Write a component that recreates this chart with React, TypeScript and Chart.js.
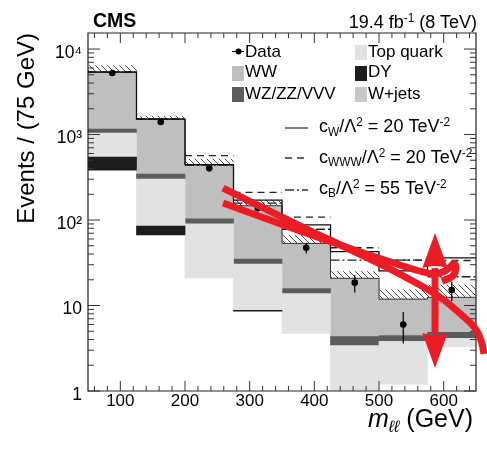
import React, { useEffect, useRef } from 'react';
import { Chart, registerables } from 'chart.js';

Chart.register(...registerables);

// ---------- data ----------
const binEdges = [50, 125, 200, 275, 350, 425, 500, 575, 650];
const binCenters = [87.5, 162.5, 237.5, 312.5, 387.5, 462.5, 537.5, 612.5];
const xTickLabels = [100, 200, 300, 400, 500, 600];
const yTickLabels: Record<number, string> = { 1: '1', 10: '10', 100: '10²', 1000: '10³', 10000: '10⁴' };

// stacked backgrounds, bottom to top
const wjets = [384, 67, 21, 8.6, 4.7, 0.6, 1.2, 3.3];
const dy = [161, 18, 0, 0.2, 0, 0, 0, 0];
const topQuark = [495, 217, 69, 21.7, 9.1, 2.8, 2.6, 0.83];
const wzzzvvv = [120, 43, 13, 4.4, 2.0, 0.93, 0.66, 0.73];
const ww = [4220, 1173, 337, 112, 37.5, 16.5, 7.4, 7.6];
const bkgUnc = [1020, 130, 77, 24, 13.4, 4.1, 3.4, 4.9];

const dataVals = [5250, 1400, 402, 138, 47.4, 18.5, 6.0, 15.2];
const dataErr = [73, 37, 20, 12, 6.9, 4.3, 2.4, 3.9];

// aTGC predictions (SM + signal)
const cW = [5380, 1518, 445, 171, 87.5, 42.6, 25.4, 36];
const cWWW = [5400, 1530, 565, 211, 108, 47.4, 34, 33.6];
const cB = [5380, 1518, 440, 158, 78, 34, 34, 21.7];

// red hand-drawn annotation (data coordinates: GeV, events)
const strokeAX = [258.8, 377.8, 470.6, 532.5, 594.3, 628.3, 650, 659.2, 662.3];
const strokeAY = [236.7, 85.1, 40.0, 23.4, 12.9, 7.74, 5.46, 3.74, 2.71];
const strokeBX = [258.8, 377.8, 470.6, 532.5, 571.1, 594.3, 609.8, 616.0, 620.6, 614.4, 597.4];
const strokeBY = [158.1, 74.3, 42.2, 29.8, 24.0, 23.4, 27.4, 32.3, 27.4, 21.5, 19.3];
const arrowX = [586.6];
const arrowTipY = [70.5, 1.86];
const arrowBaseY = [27.4, 4.77];
const arrowHalfWidthGeV = [19.6];

const FONT = '"Liberation Sans", Arial, Helvetica, sans-serif';
const RED = '#ec1c24';

function makeHatch(): CanvasPattern | string {
  const c = document.createElement('canvas');
  c.width = 6;
  c.height = 6;
  const g = c.getContext('2d');
  if (!g) return '#eee';
  g.fillStyle = '#ffffff';
  g.fillRect(0, 0, 6, 6);
  g.strokeStyle = '#3a3a3a';
  g.lineWidth = 0.9;
  g.beginPath();
  g.moveTo(-1, -1);
  g.lineTo(7, 7);
  g.stroke();
  const p = g.createPattern(c, 'repeat');
  return p || '#eee';
}

const stepPoints = (vals: number[]) => [
  ...vals.map((v, i) => ({ x: binEdges[i], y: v })),
  { x: binEdges[binEdges.length - 1], y: vals[vals.length - 1] },
];
const segPoints = (vals: number[]) =>
  vals.flatMap((v, i) => [
    { x: binEdges[i], y: v },
    { x: binEdges[i + 1], y: v },
    { x: binEdges[i + 1], y: null as any },
  ]);

function drawDecor(chart: any) {
  const ctx = chart.ctx;
  const x = chart.scales.x;
  const y = chart.scales.y;
  const L = x.left;
  const R = x.right;
  const T = y.top;
  const B = y.bottom;
  ctx.save();
  // data error bars
  ctx.strokeStyle = '#000';
  ctx.lineWidth = 1.2;
  dataVals.forEach((v, i) => {
    const px = x.getPixelForValue(binCenters[i]);
    ctx.beginPath();
    ctx.moveTo(px, y.getPixelForValue(v + dataErr[i]));
    ctx.lineTo(px, y.getPixelForValue(Math.max(v - dataErr[i], 0.01)));
    ctx.stroke();
  });
  // frame
  ctx.strokeStyle = '#222';
  ctx.lineWidth = 1.2;
  ctx.beginPath();
  ctx.rect(L, T, R - L, B - T);
  ctx.stroke();
  // x ticks (inward, bottom and top)
  ctx.lineWidth = 1;
  ctx.strokeStyle = '#333';
  for (let v = 60; v < 650; v += 20) {
    const len = v % 100 === 0 ? 10 : 5;
    const px = x.getPixelForValue(v);
    ctx.beginPath();
    ctx.moveTo(px, B);
    ctx.lineTo(px, B - len);
    ctx.moveTo(px, T);
    ctx.lineTo(px, T + len);
    ctx.stroke();
  }
  // y ticks (inward, left and right)
  for (let d = 0; d <= 4; d++) {
    for (let k = 1; k <= 9; k++) {
      const v = k * Math.pow(10, d);
      if (v > 15400) break;
      const len = k === 1 ? 12 : 6;
      const py = y.getPixelForValue(v);
      ctx.beginPath();
      ctx.moveTo(L, py);
      ctx.lineTo(L + len, py);
      ctx.moveTo(R, py);
      ctx.lineTo(R - len, py);
      ctx.stroke();
    }
  }
  ctx.restore();
}

function drawAnnotation(chart: any) {
  const ctx = chart.ctx;
  const x = chart.scales.x;
  const y = chart.scales.y;
  const toPts = (xs: number[], ys: number[]) =>
    xs.map((v, i) => ({ x: x.getPixelForValue(v), y: y.getPixelForValue(ys[i]) }));
  const smooth = (pts: { x: number; y: number }[]) => {
    ctx.beginPath();
    ctx.moveTo(pts[0].x, pts[0].y);
    for (let i = 1; i < pts.length - 1; i++) {
      const mx = (pts[i].x + pts[i + 1].x) / 2;
      const my = (pts[i].y + pts[i + 1].y) / 2;
      ctx.quadraticCurveTo(pts[i].x, pts[i].y, mx, my);
    }
    const last = pts[pts.length - 1];
    ctx.lineTo(last.x, last.y);
    ctx.stroke();
  };
  ctx.save();
  ctx.strokeStyle = RED;
  ctx.fillStyle = RED;
  ctx.lineWidth = 7;
  ctx.lineJoin = 'round';
  ctx.lineCap = 'butt';
  smooth(toPts(strokeAX, strokeAY));
  smooth(toPts(strokeBX, strokeBY));
  // double-headed arrow
  const ax = x.getPixelForValue(arrowX[0]);
  const hw = x.getPixelForValue(arrowX[0] + arrowHalfWidthGeV[0]) - ax;
  ctx.beginPath();
  ctx.moveTo(ax, y.getPixelForValue(arrowBaseY[0]));
  ctx.lineTo(ax, y.getPixelForValue(arrowBaseY[1]));
  ctx.stroke();
  for (let h = 0; h < 2; h++) {
    const tipY = y.getPixelForValue(arrowTipY[h]);
    const baseY = y.getPixelForValue(arrowBaseY[h]);
    const dir = h === 0 ? 1 : -1;
    ctx.beginPath();
    ctx.moveTo(ax, tipY);
    ctx.lineTo(ax + hw, baseY);
    ctx.quadraticCurveTo(ax, baseY - dir * 4, ax - hw, baseY);
    ctx.closePath();
    ctx.fill();
  }
  ctx.restore();
}

const decorPlugin = {
  id: 'decor',
  afterDraw(chart: any) {
    drawDecor(chart);
    drawAnnotation(chart);
  },
};

function buildDatasets(hatch: CanvasPattern | string) {
  const stackDefs = [
    { label: 'W+jets', vals: wjets, color: '#cbcbcb' },
    { label: 'DY', vals: dy, color: '#1c1c1c' },
    { label: 'Top quark', vals: topQuark, color: '#e2e2e2' },
    { label: 'WZ/ZZ/VVV', vals: wzzzvvv, color: '#5c5c5c' },
    { label: 'WW', vals: ww, color: '#bfbfbf' },
  ];
  const cum = binCenters.map(() => 0);
  const bars: any[] = stackDefs.map((d) => ({
    type: 'bar',
    label: d.label,
    data: d.vals.map((v, i) => {
      const lo = cum[i];
      cum[i] += v;
      return v > 0 ? { x: binCenters[i], y: [lo, cum[i]] } : { x: binCenters[i], y: null };
    }),
    backgroundColor: d.color,
    borderWidth: 0,
    barPercentage: 1,
    categoryPercentage: 1,
    order: 8,
  }));
  const total = cum.slice();
  const band = {
    type: 'bar',
    label: 'uncertainty',
    data: total.map((t, i) => ({ x: binCenters[i], y: [t - bkgUnc[i], t + bkgUnc[i]] })),
    backgroundColor: hatch,
    borderWidth: 0,
    barPercentage: 1,
    categoryPercentage: 1,
    order: 9,
  };
  const lineBase = { type: 'line', pointRadius: 0, fill: false, spanGaps: false, borderJoinStyle: 'miter' };
  const totalLine = { ...lineBase, label: 'total', data: stepPoints(total), stepped: true, borderColor: '#333', borderWidth: 1, order: 5 };
  const cwLine = { ...lineBase, label: 'cW', data: stepPoints(cW), stepped: true, borderColor: '#111', borderWidth: 1.3, order: 4 };
  const cwwwLine = { ...lineBase, label: 'cWWW', data: segPoints(cWWW), borderColor: '#222', borderWidth: 1.3, borderDash: [7, 5], order: 4 };
  const cbLine = { ...lineBase, label: 'cB', data: segPoints(cB), borderColor: '#222', borderWidth: 1.3, borderDash: [9, 3, 2, 3], order: 4 };
  const dataPts = {
    type: 'line',
    label: 'Data',
    data: dataVals.map((v, i) => ({ x: binCenters[i], y: v })),
    showLine: false,
    pointRadius: 3.3,
    pointBackgroundColor: '#000',
    pointBorderColor: '#000',
    pointBorderWidth: 0,
    order: 1,
  };
  return [band, ...bars, totalLine, cwLine, cwwwLine, cbLine, dataPts];
}

const sup: React.CSSProperties = { fontSize: '0.66em', position: 'relative', top: '-0.5em' };
const sub: React.CSSProperties = { fontSize: '0.66em', position: 'relative', top: '0.3em' };

function Text(props: { left?: number; right?: number; baseline: number; size: number; bold?: boolean; children: React.ReactNode; style?: React.CSSProperties }) {
  const { left, right, baseline, size, bold, children, style } = props;
  const st: React.CSSProperties = {
    position: 'absolute',
    top: baseline - 0.8465 * size,
    fontFamily: FONT,
    fontSize: size,
    lineHeight: `${size}px`,
    fontWeight: bold ? 'bold' : 'normal',
    whiteSpace: 'nowrap',
    color: '#000',
    ...style,
  };
  if (left !== undefined) st.left = left;
  if (right !== undefined) st.right = right;
  return <div style={st}>{children}</div>;
}

function Swatch(props: { left: number; top: number; color: string }) {
  return (
    <div style={{ position: 'absolute', left: props.left, top: props.top, width: 11.5, height: 14.5, background: props.color }} />
  );
}

function LineSample(props: { top: number; dash?: string }) {
  return (
    <svg style={{ position: 'absolute', left: 285, top: props.top - 5 }} width={23} height={10}>
      <line x1={0} y1={5} x2={23} y2={5} stroke="#333" strokeWidth={1.3} strokeDasharray={props.dash} />
    </svg>
  );
}

export default function App() {
  const canvasRef = useRef<HTMLCanvasElement | null>(null);

  useEffect(() => {
    const canvas = canvasRef.current;
    if (!canvas) return;
    const hatch = makeHatch();
    const chart = new Chart(canvas, {
      type: 'bar',
      data: { datasets: buildDatasets(hatch) as any },
      options: {
        responsive: false,
        animation: false,
        devicePixelRatio: 1,
        layout: { padding: { left: 0, right: 11, top: 33, bottom: 0 } },
        plugins: { legend: { display: false }, tooltip: { enabled: false } },
        scales: {
          x: {
            type: 'linear',
            stacked: true,
            offset: false,
            min: 50,
            max: 650,
            grid: { display: false, drawTicks: false, offset: false },
            border: { display: false },
            afterBuildTicks: (s: any) => {
              s.ticks = xTickLabels.map((v) => ({ value: v }));
            },
            afterFit: (s: any) => {
              s.height = 61;
            },
            ticks: {
              autoSkip: false,
              maxRotation: 0,
              padding: 0,
              color: '#000',
              font: { family: FONT, size: 17 },
              callback: (v: any) => String(v),
            },
          },
          y: {
            type: 'logarithmic',
            stacked: false,
            min: 1,
            max: 15400,
            grid: { display: false, drawTicks: false },
            border: { display: false },
            afterBuildTicks: (s: any) => {
              s.ticks = Object.keys(yTickLabels).map((k) => ({ value: Number(k) }));
            },
            afterFit: (s: any) => {
              s.width = 88;
            },
            ticks: {
              autoSkip: false,
              padding: 6,
              labelOffset: 4,
              color: '#000',
              font: { family: FONT, size: 17.5 },
              callback: (v: any) => yTickLabels[Number(v)] ?? '',
            },
          },
        },
      },
      plugins: [decorPlugin],
    } as any);
    return () => chart.destroy();
  }, []);

  return (
    <div style={{ position: 'fixed', left: 0, top: 0, width: 487, height: 452, background: '#fff', overflow: 'hidden' }}>
      <canvas ref={canvasRef} width={487} height={452} style={{ position: 'absolute', left: 0, top: 0, width: 487, height: 452 }} />

      {/* header */}
      <Text left={93} baseline={28} size={19.5} bold>CMS</Text>
      <Text right={10} baseline={28.3} size={18}>
        19.4 fb<span style={sup}>-1</span> (8 TeV)
      </Text>

      {/* legend: background components */}
      <svg style={{ position: 'absolute', left: 231, top: 46 }} width={14} height={11}>
        <line x1={1} y1={5.5} x2={13} y2={5.5} stroke="#000" strokeWidth={1} />
        <circle cx={7.5} cy={5.5} r={3} fill="#000" />
      </svg>
      <Text left={245} baseline={57.3} size={17}>Data</Text>
      <Swatch left={232} top={66} color="#bfbfbf" />
      <Text left={245} baseline={77.8} size={17}>WW</Text>
      <Swatch left={232} top={87} color="#5c5c5c" />
      <Text left={245} baseline={99.8} size={17}>WZ/ZZ/VVV</Text>

      <Swatch left={355} top={45} color="#e2e2e2" />
      <Text left={368} baseline={57.3} size={17}>Top quark</Text>
      <Swatch left={355} top={66} color="#1c1c1c" />
      <Text left={368} baseline={77.8} size={17}>DY</Text>
      <Swatch left={355} top={87} color="#c8c8c8" />
      <Text left={368} baseline={99.8} size={17}>W+jets</Text>

      {/* legend: aTGC predictions */}
      <LineSample top={128.3} />
      <Text left={319} baseline={132.5} size={18}>
        c<span style={sub}>W</span>/Λ<span style={sup}>2</span> = 20 TeV<span style={sup}>-2</span>
      </Text>
      <LineSample top={158.3} dash="7 5" />
      <Text left={319} baseline={163} size={18}>
        c<span style={sub}>WWW</span>/Λ<span style={sup}>2</span> = 20 TeV<span style={sup}>-2</span>
      </Text>
      <LineSample top={190} dash="9 3 2 3" />
      <Text left={319} baseline={194} size={18}>
        c<span style={sub}>B</span>/Λ<span style={sup}>2</span> = 55 TeV<span style={sup}>-2</span>
      </Text>

      {/* axis titles */}
      <div
        style={{
          position: 'absolute',
          left: 13,
          top: 333,
          width: 300,
          textAlign: 'right',
          transform: 'rotate(-90deg)',
          transformOrigin: 'left top',
          fontFamily: FONT,
          fontSize: 24,
          lineHeight: '26px',
          whiteSpace: 'nowrap',
          color: '#000',
        }}
      >
        Events / (75 GeV)
      </div>
      <Text right={14} baseline={427} size={25}>
        <i>m</i>
        <span style={{ ...sub, fontStyle: 'italic' }}>ℓℓ</span> (GeV)
      </Text>
    </div>
  );
}
